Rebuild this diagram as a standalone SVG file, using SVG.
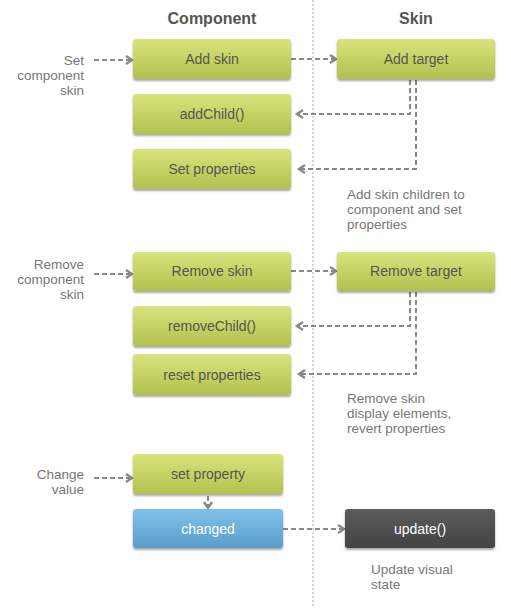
<svg xmlns="http://www.w3.org/2000/svg" width="511" height="608" viewBox="0 0 511 608">
<defs>
<linearGradient id="gGreen" x1="0" y1="0" x2="0" y2="1">
<stop offset="0" stop-color="#d8e47c"/>
<stop offset="1" stop-color="#b1c14e"/>
</linearGradient>
<linearGradient id="gBlue" x1="0" y1="0" x2="0" y2="1">
<stop offset="0" stop-color="#7ec2ea"/>
<stop offset="1" stop-color="#5b9dc9"/>
</linearGradient>
<linearGradient id="gDark" x1="0" y1="0" x2="0" y2="1">
<stop offset="0" stop-color="#5c5c5c"/>
<stop offset="1" stop-color="#434343"/>
</linearGradient>
<filter id="sh" x="-10%" y="-20%" width="120%" height="150%">
<feGaussianBlur in="SourceAlpha" stdDeviation="1"/>
<feOffset dy="1.5" result="b"/>
<feComponentTransfer><feFuncA type="linear" slope="0.35"/></feComponentTransfer>
<feMerge><feMergeNode/><feMergeNode in="SourceGraphic"/></feMerge>
</filter>
<marker id="arr" markerUnits="userSpaceOnUse" markerWidth="10" markerHeight="12" refX="7" refY="5" orient="auto">
<path d="M1,1 L7,5 L1,9" fill="none" stroke="#888" stroke-width="2.4"/>
</marker>
</defs>
<style>
text{font-family:"Liberation Sans",Arial,sans-serif;}
.hdr{font-size:16px;font-weight:bold;fill:#555;text-anchor:middle;}
.lbl{font-size:13.5px;fill:#777;text-anchor:end;}
.note{font-size:13.5px;fill:#777;}
.bt{font-size:14px;fill:#555;text-anchor:middle;}
.wt{font-size:14px;fill:#fff;text-anchor:middle;}
.g{fill:url(#gGreen);filter:url(#sh);}
.b{fill:url(#gBlue);filter:url(#sh);}
.d{fill:url(#gDark);filter:url(#sh);}
.c{fill:none;stroke:#888;stroke-width:2;stroke-dasharray:5 3;}
</style>
<rect width="511" height="608" fill="#fff"/>
<line x1="313" y1="0" x2="313" y2="608" stroke="#aaa" stroke-width="1" stroke-dasharray="2 2"/>
<text class="hdr" x="212" y="24">Component</text>
<text class="hdr" x="416" y="24">Skin</text>

<g id="labels">
<text class="lbl" x="84" y="65">Set</text>
<text class="lbl" x="84" y="80">component</text>
<text class="lbl" x="84" y="95">skin</text>
<text class="lbl" x="84" y="269">Remove</text>
<text class="lbl" x="84" y="284">component</text>
<text class="lbl" x="84" y="299">skin</text>
<text class="lbl" x="84" y="478.5">Change</text>
<text class="lbl" x="84" y="493.5">value</text>
<text class="note" x="347" y="199">Add skin children to</text>
<text class="note" x="347" y="214">component and set</text>
<text class="note" x="347" y="229">properties</text>
<text class="note" x="347" y="403">Remove skin</text>
<text class="note" x="347" y="418">display elements,</text>
<text class="note" x="347" y="433">revert properties</text>
<text class="note" x="371" y="573.5">Update visual</text>
<text class="note" x="371" y="588.5">state</text>
</g>

<g id="connectors">
<path class="c" d="M94,60 H132" marker-end="url(#arr)"/>
<path class="c" d="M291,59 H336" marker-end="url(#arr)"/>
<path class="c" d="M410,80 V114 H297" marker-end="url(#arr)"/>
<path class="c" d="M416,80 V169 H299" marker-end="url(#arr)"/>
<path class="c" d="M94,274 H132" marker-end="url(#arr)"/>
<path class="c" d="M291,271 H336" marker-end="url(#arr)"/>
<path class="c" d="M410,292 V326 H297" marker-end="url(#arr)"/>
<path class="c" d="M416,292 V374 H299" marker-end="url(#arr)"/>
<path class="c" d="M94,478 H132" marker-end="url(#arr)"/>
<path class="c" d="M208,496 V508" marker-end="url(#arr)"/>
<path class="c" d="M283,529 H344" marker-end="url(#arr)"/>
</g>

<g id="add-skin"><rect class="g" x="133" y="39" width="158" height="40" rx="3"/><text class="bt" x="212" y="64">Add skin</text></g>
<g id="add-target"><rect class="g" x="337" y="39" width="158" height="40" rx="3"/><text class="bt" x="416" y="64">Add target</text></g>
<g id="add-child"><rect class="g" x="133" y="94" width="158" height="40" rx="3"/><text class="bt" x="212" y="119">addChild()</text></g>
<g id="set-properties"><rect class="g" x="133" y="149" width="158" height="40" rx="3"/><text class="bt" x="212" y="174">Set properties</text></g>
<g id="remove-skin"><rect class="g" x="133" y="252" width="158" height="39" rx="3"/><text class="bt" x="212" y="276">Remove skin</text></g>
<g id="remove-target"><rect class="g" x="337" y="252" width="158" height="39" rx="3"/><text class="bt" x="416" y="276">Remove target</text></g>
<g id="remove-child"><rect class="g" x="133" y="306" width="158" height="40" rx="3"/><text class="bt" x="212" y="331">removeChild()</text></g>
<g id="reset-properties"><rect class="g" x="133" y="354" width="158" height="41" rx="3"/><text class="bt" x="212" y="380">reset properties</text></g>
<g id="set-property"><rect class="g" x="133" y="454" width="150" height="40" rx="3"/><text class="bt" x="208" y="479">set property</text></g>
<g id="changed"><rect class="b" x="133" y="509" width="150" height="39" rx="3"/><text class="wt" x="208" y="534">changed</text></g>
<g id="update"><rect class="d" x="345" y="509" width="150" height="39" rx="3"/><text class="wt" x="420" y="534">update()</text></g>
</svg>
